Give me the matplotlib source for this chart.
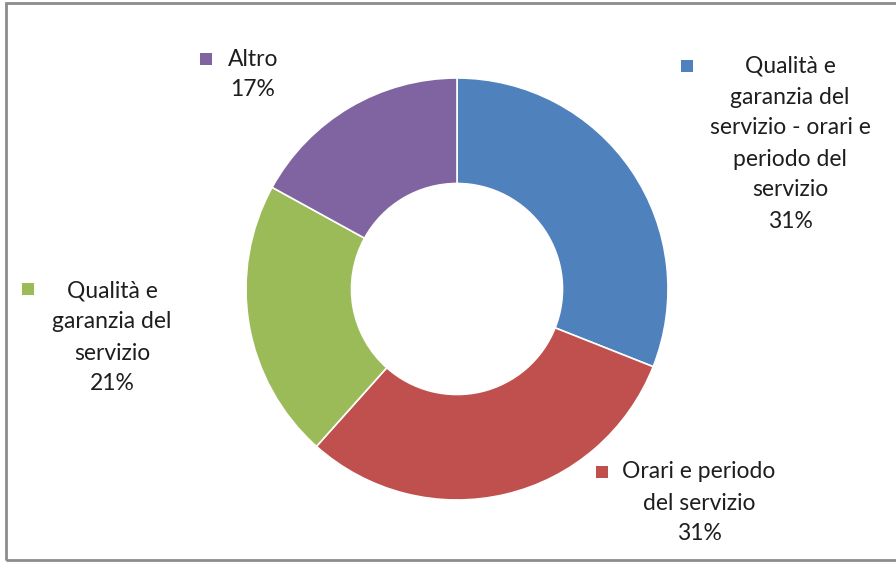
import matplotlib
matplotlib.use("Agg")
import matplotlib.pyplot as plt
from matplotlib.patches import Rectangle

# ---- data ----
categories = ["Qualità e garanzia del servizio - orari e periodo del servizio",
              "Orari e periodo del servizio",
              "Qualità e garanzia del servizio",
              "Altro"]
label_lines = [["Qualità e", "garanzia del", "servizio - orari e", "periodo del", "servizio"],
               ["Orari e periodo", "del servizio"],
               ["Qualità e", "garanzia del", "servizio"],
               ["Altro"]]
values = [31.0, 30.6, 21.4, 17.0]
pct_labels = ["31%", "31%", "21%", "17%"]
colors = ["#4F81BD", "#C0504D", "#9BBB59", "#8064A2"]

W, H = 896, 563
fig = plt.figure(figsize=(W / 100, H / 100), dpi=100)
ax = fig.add_axes([0, 0, 1, 1])

def py(y):  # image-row to data y
    return H - y

cx, cy, R = 457, py(289), 211
ax.pie(values, colors=colors, startangle=90, counterclock=False,
       center=(cx, cy), radius=R, frame=True,
       wedgeprops=dict(width=R * 0.5, edgecolor="white", linewidth=1.2))
ax.set_xlim(0, W)
ax.set_ylim(0, H)
ax.set_aspect("equal")
ax.axis("off")

# frame
ax.add_patch(Rectangle((6, py(560)), 1000, 557, fill=False, edgecolor="#8c8c8c", linewidth=2))

fs = 16.5
tc = "#1e1e1e"
font = ["Lato", "DejaVu Sans"]
# label layout: (text center x, first line center y (image rows), marker x, marker y)
layout = [(790, 66, 687, 66), (699, 472, 602, 472), (112, 291, 28, 289), (253, 59, 206, 59)]
for lines, pct, col, (tx, ty, mx, my) in zip(label_lines, pct_labels, colors, layout):
    allines = lines + [pct]
    for i, ln in enumerate(allines):
        ax.text(tx, py(ty + 31 * i), ln, ha="center", va="center", fontsize=fs,
                color=tc, family=font)
    ax.add_patch(Rectangle((mx - 6, py(my) - 6), 12, 12, facecolor=col, edgecolor="none"))

fig.savefig("out.png", dpi=100)
